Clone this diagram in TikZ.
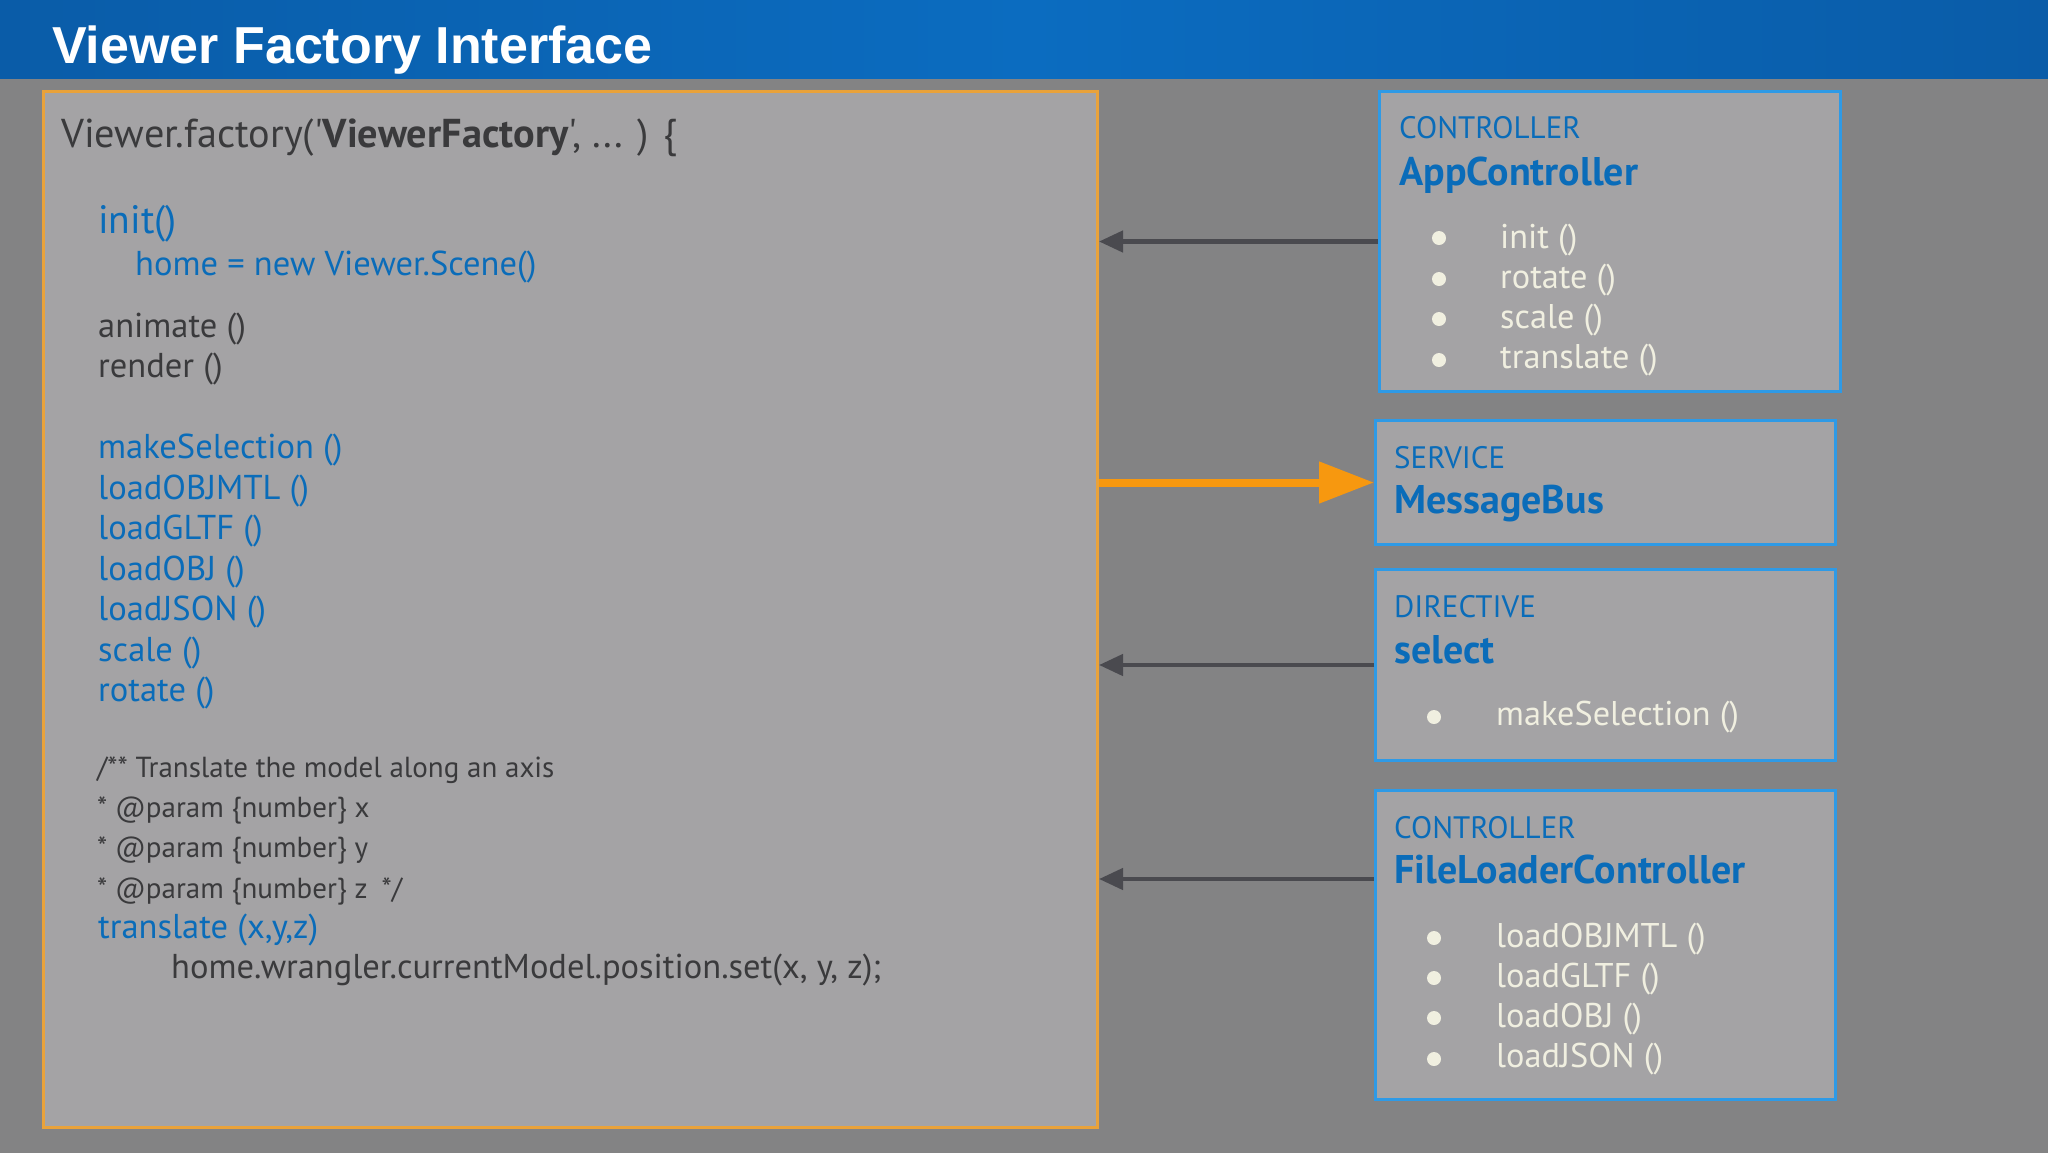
\documentclass[tikz,border=0pt]{standalone}
\usepackage{fontspec}
\setmainfont{PT Sans}[Ligatures=TeXOff]
\newfontfamily\titlefont{Liberation Sans}
\usetikzlibrary{arrows.meta,calc}
\definecolor{bg}{HTML}{838384}
\definecolor{boxfill}{HTML}{A4A3A5}
\definecolor{tbA}{HTML}{0A5CA8}
\definecolor{tbB}{HTML}{0B6CC0}
\definecolor{orangeline}{HTML}{E9A23A}
\definecolor{orangearrow}{HTML}{F7980F}
\definecolor{blueline}{HTML}{2E9AE6}
\definecolor{bluetext}{HTML}{0A6CB9}
\definecolor{codegray}{HTML}{3A3A3C}
\definecolor{cream}{HTML}{F0EFE0}
\definecolor{arrowgray}{HTML}{4A4A4F}
\tikzset{
  codeline/.style={anchor=base west, inner sep=0pt, text=codegray, font=\fontsize{34.5}{40}\selectfont},
  bluecode/.style={codeline, text=bluetext},
  commentline/.style={codeline, font=\fontsize{29}{34}\selectfont},
  kindlabel/.style={anchor=base west, inner sep=0pt, text=bluetext, font=\fontsize{31}{36}\selectfont},
  namelabel/.style={anchor=base west, inner sep=0pt, text=bluetext, font=\bfseries\fontsize{40}{46}\selectfont},
  itemtext/.style={anchor=base west, inner sep=0pt, text=cream, font=\fontsize{34.3}{40}\selectfont},
  bulletdot/.style={circle, fill=cream, minimum size=14pt, inner sep=0pt},
  compbox/.style={draw=blueline, line width=3pt, fill=boxfill, anchor=north west, inner sep=0pt},
  darrow/.style={draw=arrowgray, line width=4.5pt, -{Triangle[length=24pt,width=21pt]}},
  oarrow/.style={draw=orangearrow, line width=8pt, -{Triangle[length=55pt,width=40pt]}},
}
\begin{document}
\begin{tikzpicture}[x=1pt,y=-1pt]
\useasboundingbox (0,0) rectangle (2048,1152);
\fill[bg] (-2,-2) rectangle (2050,1154);
\shade[left color=tbA, right color=tbA, middle color=tbB] (-2,-2) rectangle (2050,78);
\node[anchor=base west, inner sep=0pt, text=white, font=\titlefont\bfseries\fontsize{52}{60}\selectfont] (title) at (52,63) {Viewer Factory Interface};

% main code box
\node[draw=orangeline, line width=3pt, fill=boxfill, anchor=north west, inner sep=0pt,
      minimum width=1054pt, minimum height=1036pt] (main) at (42,90) {};
\node[codeline, font=\fontsize{40.3}{46}\selectfont] (hdr) at (61,147) {Viewer.factory('\textbf{ViewerFactory}', ... ) \{};
\node[bluecode, font=\fontsize{39.6}{46}\selectfont] (init) at (98,233) {init()};
\node[bluecode] (homeline) at (135,275) {home = new Viewer.Scene()};
\node[codeline] (animate) at (98,337) {animate ()};
\node[codeline] (render) at (98,377) {render ()};
\node[bluecode] (c1) at (98,458) {makeSelection ()};
\node[bluecode] (c2) at (98,499) {loadOBJMTL ()};
\node[bluecode] (c3) at (98,539) {loadGLTF ()};
\node[bluecode] (c4) at (98,580) {loadOBJ ()};
\node[bluecode] (c5) at (98,620) {loadJSON ()};
\node[bluecode] (c6) at (98,661) {scale ()};
\node[bluecode] (c7) at (98,701) {rotate ()};
\node[commentline] (m1) at (97,777) {/** Translate the model along an axis};
\node[commentline] (m2) at (97,817) {* @param \{number\} x};
\node[commentline] (m3) at (97,857) {* @param \{number\} y};
\node[commentline] (m4) at (97,898) {* @param \{number\} z\hspace{14pt}*/};
\node[bluecode] (tr) at (98,938) {translate (x,y,z)};
\node[codeline] (wr) at (171,978) {home.wrangler.currentModel.position.set(x, y, z);};

% AppController
\node[compbox, minimum width=461pt, minimum height=300pt] (app) at (1378,90) {};
\node[kindlabel] (appk) at (1399,138) {CONTROLLER};
\node[namelabel] (appn) at (1399,185) {AppController};
\node[bulletdot] (ab1) at (1439,238) {};
\node[bulletdot] (ab2) at (1439,279) {};
\node[bulletdot] (ab3) at (1439,319) {};
\node[bulletdot] (ab4) at (1439,360) {};
\node[itemtext] (ai1) at (1500,248) {init ()};
\node[itemtext] (ai2) at (1500,288) {rotate ()};
\node[itemtext] (ai3) at (1500,328) {scale ()};
\node[itemtext] (ai4) at (1500,368) {translate ()};

% MessageBus
\node[compbox, minimum width=460pt, minimum height=124pt] (mb) at (1374,419) {};
\node[kindlabel] (mbk) at (1394,468) {SERVICE};
\node[namelabel] (mbn) at (1394,513) {MessageBus};

% select
\node[compbox, minimum width=460pt, minimum height=191pt] (sel) at (1374,568) {};
\node[kindlabel] (selk) at (1394,617) {DIRECTIVE};
\node[namelabel] (seln) at (1394,663) {select};
\node[bulletdot] (sb1) at (1434,717) {};
\node[itemtext] (si1) at (1496,725) {makeSelection ()};

% FileLoaderController
\node[compbox, minimum width=460pt, minimum height=309pt] (fl) at (1374,789) {};
\node[kindlabel] (flk) at (1394,838) {CONTROLLER};
\node[namelabel] (fln) at (1394,883) {FileLoaderController};
\node[bulletdot] (fb1) at (1434,938) {};
\node[bulletdot] (fb2) at (1434,978) {};
\node[bulletdot] (fb3) at (1434,1018) {};
\node[bulletdot] (fb4) at (1434,1059) {};
\node[itemtext] (fi1) at (1496,947) {loadOBJMTL ()};
\node[itemtext] (fi2) at (1496,987) {loadGLTF ()};
\node[itemtext] (fi3) at (1496,1027) {loadOBJ ()};
\node[itemtext] (fi4) at (1496,1067) {loadJSON ()};

% connectors
\coordinate (flport) at ([yshift=66pt]fl.west);
\draw[darrow] (app.west) -- (app.west -| main.east);
\draw[oarrow] (mb.west -| main.east) -- (mb.west);
\draw[darrow] (sel.west) -- (sel.west -| main.east);
\draw[darrow] (flport) -- (flport -| main.east);
\end{tikzpicture}
\end{document}
